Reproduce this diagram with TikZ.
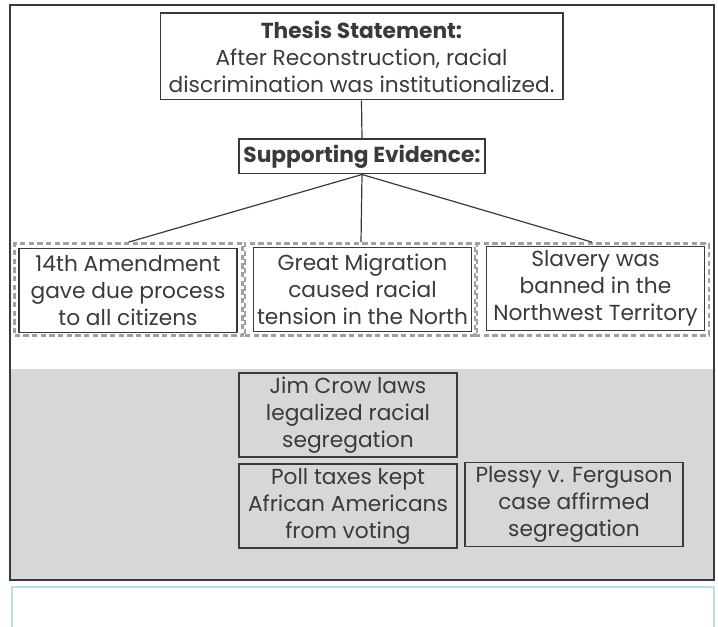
\documentclass[tikz,border=0pt]{standalone}
\usepackage{xcolor}
\usepackage{fontspec}
\setmainfont{Poppins}
\usepackage{tikz}
\usetikzlibrary{shapes,backgrounds,calc}

\definecolor{inkgray}{HTML}{3A3A3A}
\definecolor{panelgray}{HTML}{D7D7D7}
\definecolor{dashgray}{HTML}{A0A0A0}
\definecolor{answerblue}{HTML}{B8E0E9}

\begin{document}
\begin{tikzpicture}[x=0.75pt,y=-0.75pt]
        % Define the styles for the boxes
        \tikzstyle{textbox}=[draw=inkgray, line width=1pt, text=inkgray, align=center, inner sep=0pt,
            font=\fontsize{16.3}{20.3}\selectfont];
        \tikzstyle{choice}=[textbox, minimum width=163.5pt, minimum height=63pt];
        \tikzstyle{dashframe}=[draw=dashgray, dash pattern=on 4pt off 2.5pt, line width=2pt, minimum height=69pt];
        \tikzstyle{link}=[draw=inkgray, line width=0.9pt];

        \useasboundingbox (0,0) rectangle (718,627);

        % Gray area for the unused answers
        \fill[panelgray] (10,369) rectangle (714,580);
        \draw[inkgray, line width=1.2pt] (10,5) rectangle (714,580);

        % Empty answer box below
        \draw[answerblue, line width=1pt] (12,587) rectangle (714,640);

        % Thesis and heading
        \node[textbox, minimum width=302pt, minimum height=65pt] (thesis) at (361.5,56.5)
            {\textbf{Thesis Statement:}\\After Reconstruction, racial\\discrimination was institutionalized.};
        \node[textbox, minimum width=184.5pt, minimum height=26pt] (support) at (362,156.5)
            {\textbf{Supporting Evidence:}};

        % Drop zones with dashed frames
        \node[dashframe, minimum width=171pt] (zoneA) at (128.5,289.5) {};
        \node[dashframe, minimum width=174pt] (zoneB) at (361,289.5) {};
        \node[dashframe, minimum width=175.5pt] (zoneC) at (592,289.5) {};

        \node[choice] (amend) at (128,290.5) {14th Amendment\\gave due process\\to all citizens};
        \node[choice] (migr) at (362.5,289.5) {Great Migration\\caused racial\\tension in the North};
        \node[choice] (slav) at (595.5,288.5) {Slavery was\\banned in the\\Northwest Territory};

        % Connectors
        \draw[link] (thesis.south) -- (support.north);
        \draw[link] (support.south) -- (zoneA.north);
        \draw[link] (support.south) -- (zoneB.north);
        \draw[link] (support.south) -- (zoneC.north);

        % Remaining evidence in the gray area
        \node[choice] (jimcrow) at (348,415) {Jim Crow laws\\legalized racial\\segregation};
        \node[choice] (poll) at (348,506) {Poll taxes kept\\African Americans\\from voting};
        \node[choice] (plessy) at (574,504.5) {Plessy v. Ferguson\\case affirmed\\segregation};

    \end{tikzpicture}
\end{document}
